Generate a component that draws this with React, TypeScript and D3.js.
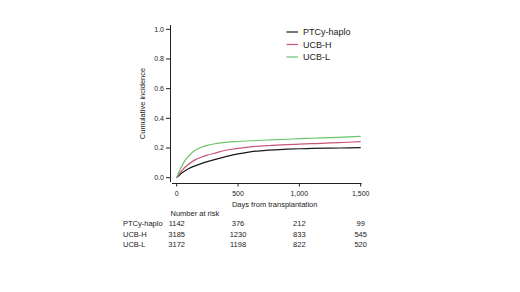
import React from "react";
import * as d3 from "d3";

const days = [0, 25, 50, 75, 100, 150, 200, 250, 300, 400, 500, 600, 750, 900, 1000, 1100, 1250, 1400, 1500];
const ptcy = [0, 0.02, 0.036, 0.05, 0.062, 0.08, 0.095, 0.108, 0.12, 0.142, 0.16, 0.174, 0.186, 0.192, 0.195, 0.197, 0.199, 0.201, 0.203];
const ucbH = [0, 0.03, 0.055, 0.075, 0.092, 0.12, 0.138, 0.152, 0.163, 0.185, 0.198, 0.208, 0.217, 0.223, 0.226, 0.229, 0.234, 0.239, 0.243];
const ucbL = [0, 0.05, 0.09, 0.125, 0.148, 0.185, 0.205, 0.218, 0.227, 0.238, 0.244, 0.249, 0.254, 0.259, 0.263, 0.266, 0.27, 0.275, 0.278];

const seriesNames = ["PTCy-haplo", "UCB-H", "UCB-L"];
const seriesColors = ["#1a1a1a", "#c8557a", "#6cc46a"];
const xTicks = [0, 500, 1000, 1500];
const yTicks = [0, 0.2, 0.4, 0.6, 0.8, 1.0];
const riskTimes = [0, 500, 1000, 1500];
const riskPtcy = [1142, 376, 212, 99];
const riskUcbH = [3185, 1230, 833, 545];
const riskUcbL = [3172, 1198, 822, 520];

const FONT = "Arial, 'Liberation Sans', sans-serif";

export default function App() {
  const x = d3.scaleLinear().domain([0, 1500]).range([176.7, 360.7]);
  const y = d3.scaleLinear().domain([0, 1]).range([177.7, 29.3]);
  const all = [ptcy, ucbH, ucbL];
  const line = d3
    .line<number>()
    .x((_, i) => x(days[i]))
    .y((v) => y(v))
    .curve(d3.curveMonotoneX);
  const fmt = d3.format(",");
  const risks = [riskPtcy, riskUcbH, riskUcbL];
  const axisY = 170.5;
  const axisX = 183.5;
  return (
    <svg
      width={520}
      height={292}
      style={{ position: "absolute", left: 0, top: 0, background: "#fff" }}
      fontFamily={FONT}
    >
      {/* y axis */}
      <line x1={axisY} x2={axisY} y1={25} y2={182} stroke="#222" strokeWidth={1} />
      {yTicks.map((t) => (
        <g key={t}>
          <line x1={axisY - 4.5} x2={axisY} y1={y(t)} y2={y(t)} stroke="#222" />
          <text x={axisY - 6.5} y={y(t)} dy="0.35em" fontSize={7} textAnchor="end" fill="#222">
            {t.toFixed(1)}
          </text>
        </g>
      ))}
      <text
        transform={`translate(145,${(y(0) + y(1)) / 2}) rotate(-90)`}
        fontSize={7.5}
        textAnchor="middle"
        fill="#222"
      >
        Cumulative incidence
      </text>
      {/* x axis */}
      <line x1={172} x2={361.5} y1={axisX} y2={axisX} stroke="#222" strokeWidth={1} />
      {xTicks.map((t) => (
        <g key={t}>
          <line x1={x(t)} x2={x(t)} y1={axisX} y2={axisX + 3} stroke="#222" />
          <text x={x(t)} y={196} fontSize={7} textAnchor="middle" fill="#222">
            {fmt(t)}
          </text>
        </g>
      ))}
      <text x={(x(0) + x(1500)) / 2 + 6} y={207} fontSize={7.5} textAnchor="middle" fill="#222">
        Days from transplantation
      </text>
      {/* curves */}
      {all.map((s, i) => (
        <path key={i} d={line(s) || ""} fill="none" stroke={seriesColors[i]} strokeWidth={1.2} />
      ))}
      {/* legend */}
      {seriesNames.map((n, i) => (
        <g key={n}>
          <line x1={286.5} x2={298} y1={32 + i * 12.5} y2={32 + i * 12.5} stroke={seriesColors[i]} strokeWidth={1.2} />
          <text x={303} y={32 + i * 12.5} dy="0.35em" fontSize={9} fill="#222">
            {n}
          </text>
        </g>
      ))}
      {/* number at risk */}
      <text x={170.5} y={215.5} fontSize={7.5} fill="#222">
        Number at risk
      </text>
      {seriesNames.map((n, i) => (
        <g key={n}>
          <text x={123} y={226 + i * 10.5} fontSize={7.5} fill="#222">
            {n}
          </text>
          {risks[i].map((v, j) => (
            <text key={j} x={x(riskTimes[j])} y={226 + i * 10.5} fontSize={7.5} textAnchor="middle" fill="#222">
              {v}
            </text>
          ))}
        </g>
      ))}
    </svg>
  );
}
